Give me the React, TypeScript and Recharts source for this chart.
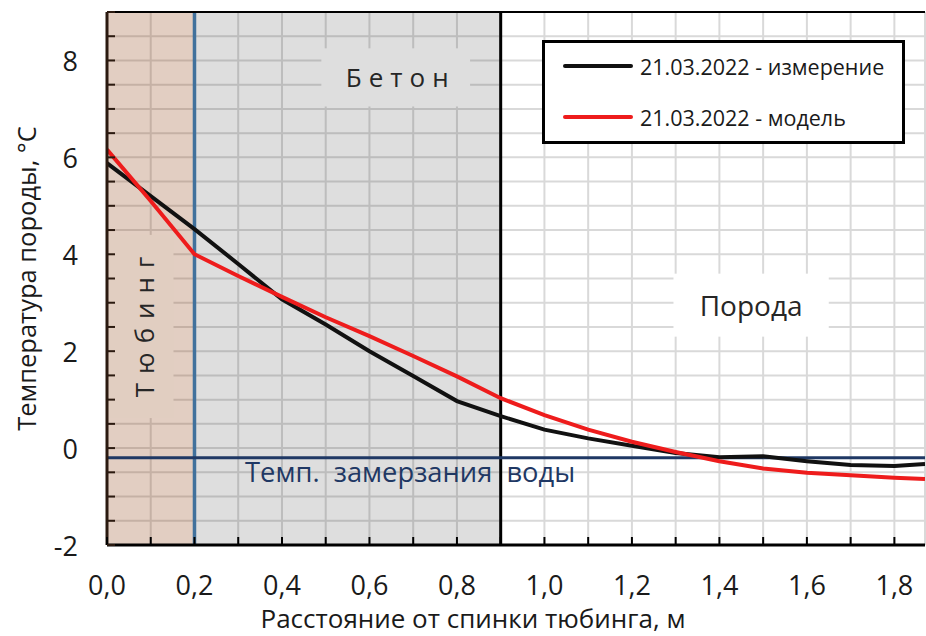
import React from 'react'
import {
  LineChart, Line, XAxis, YAxis, CartesianGrid, ReferenceArea, ReferenceLine, Legend,
} from 'recharts'

// distance from the back of the tubing, m
const distance = [0, 0.1, 0.2, 0.3, 0.4, 0.5, 0.6, 0.7, 0.8, 0.9, 1.0, 1.1, 1.2, 1.3, 1.4, 1.5, 1.6, 1.7, 1.8, 1.87]
// 21.03.2022 measured temperature, °C
const measured = [5.88, 5.2, 4.52, 3.8, 3.07, 2.55, 2.0, 1.49, 0.97, 0.66, 0.38, 0.2, 0.05, -0.1, -0.19, -0.17, -0.27, -0.35, -0.37, -0.33]
// 21.03.2022 model temperature, °C
const model = [6.16, 5.1, 4.0, 3.55, 3.12, 2.7, 2.31, 1.9, 1.48, 1.03, 0.68, 0.38, 0.13, -0.08, -0.27, -0.42, -0.51, -0.56, -0.61, -0.64]

const xTicks = [0, 0.1, 0.2, 0.3, 0.4, 0.5, 0.6, 0.7, 0.8, 0.9, 1.0, 1.1, 1.2, 1.3, 1.4, 1.5, 1.6, 1.7, 1.8]
const yTicks = [-2, -1.5, -1, -0.5, 0, 0.5, 1, 1.5, 2, 2.5, 3, 3.5, 4, 4.5, 5, 5.5, 6, 6.5, 7, 7.5, 8, 8.5, 9]
const yLabels = [-2, 0, 2, 4, 6, 8]

const tubingEnd = 0.2
const concreteEnd = 0.9
const freezingTemp = -0.2

const data = distance.map((d, i) => ({ d, measured: measured[i], model: model[i] }))

const FONT = "'Open Sans', sans-serif"

function XTick({ x, y, payload }: any) {
  const v = payload.value
  const major = Math.round(v * 10) % 2 === 0
  return (
    <g>
      <line x1={x} y1={y} x2={x} y2={y - 8} stroke="#000" strokeWidth={2} />
      {major && (
        <text x={x} y={y + 39} textAnchor="middle" dominantBaseline="central" fontSize={27} fill="#1a1a1a">
          {v.toFixed(1).replace('.', ',')}
        </text>
      )}
    </g>
  )
}

function YTick({ x, y, payload }: any) {
  const v = payload.value
  return (
    <g>
      <line x1={x} y1={y} x2={x + 8} y2={y} stroke="#2b1a10" strokeWidth={2} />
      {yLabels.includes(v) && (
        <text x={x - 29} y={y} textAnchor="end" dominantBaseline="central" fontSize={27} fill="#1a1a1a">
          {v}
        </text>
      )}
    </g>
  )
}

function boxShape(text: string, opts: { fill?: string; size: number; spacing?: number; rotate?: boolean; color?: string; dx?: number; dy?: number }) {
  return (p: any) => {
    const cx = p.x + p.width / 2 + (opts.dx || 0)
    const cy = p.y + p.height / 2 + (opts.dy || 0)
    return (
      <g>
        {opts.fill && <rect x={p.x} y={p.y} width={p.width} height={p.height} fill={opts.fill} />}
        <text
          x={cx}
          y={cy}
          textAnchor="middle"
          dominantBaseline="central"
          fontSize={opts.size}
          fill={opts.color || '#262626'}
          transform={opts.rotate ? `rotate(-90 ${cx} ${cy})` : undefined}
          style={{ letterSpacing: opts.spacing || 0, whiteSpace: 'pre', fontFamily: FONT }}
        >
          {text}
        </text>
      </g>
    )
  }
}

function LegendBox({ payload }: any) {
  return (
    <div style={{ width: 363, height: 104, boxSizing: 'border-box', border: '3px solid #000', background: '#fff', position: 'relative', fontFamily: FONT }}>
      {(payload || []).map((e: any, i: number) => (
        <div key={i} style={{ position: 'absolute', left: 18, top: 11 + i * 51, height: 24, display: 'flex', alignItems: 'center' }}>
          <div style={{ width: 70, height: 4, background: e.color, borderRadius: 2 }} />
          <span style={{ marginLeft: 7, fontSize: 21.5, color: '#1a1a1a', whiteSpace: 'nowrap' }}>{e.value}</span>
        </div>
      ))}
    </div>
  )
}

export default function App() {
  return (
    <div style={{ position: 'absolute', left: 0, top: 0, width: 926, height: 636, background: '#fff', fontFamily: FONT }}>
      <LineChart width={926} height={636} data={data} margin={{ top: 12, right: 1, bottom: 0, left: 0 }}>
        <CartesianGrid stroke="#d9d9d9" strokeWidth={2} />
        <XAxis
          dataKey="d"
          type="number"
          domain={[0, 1.87]}
          ticks={xTicks}
          interval={0}
          allowDataOverflow
          height={91}
          tickSize={0}
          tickMargin={0}
          tickLine={false}
          tick={<XTick />}
          axisLine={{ stroke: '#000', strokeWidth: 3 }}
          label={{ value: 'Расстояние от спинки тюбинга, м', position: 'insideBottom', offset: 8, dx: -43, fontSize: 26, fill: '#1a1a1a' }}
        />
        <YAxis
          type="number"
          domain={[-2, 9]}
          ticks={yTicks}
          interval={0}
          allowDataOverflow
          width={107}
          tickSize={0}
          tickMargin={0}
          tickLine={false}
          tick={<YTick />}
          axisLine={{ stroke: '#2b1a10', strokeWidth: 3 }}
          label={{ value: 'Температура породы, °C', angle: -90, position: 'insideLeft', offset: 27, fontSize: 25.5, fill: '#1a1a1a', style: { textAnchor: 'middle' } }}
        />
        <ReferenceArea x1={0} x2={tubingEnd} y1={-2} y2={9} fill="#8a3a0a" fillOpacity={0.25} stroke="none" />
        <ReferenceArea x1={tubingEnd} x2={concreteEnd} y1={-2} y2={9} fill="#000" fillOpacity={0.13} stroke="none" />
        <ReferenceArea x1={0.004} x2={0.152} y1={0.62} y2={4.4} shape={boxShape('Тюбинг', { fill: '#e1cec1', size: 26, spacing: 9, rotate: true, dx: 3, dy: -4 })} />
        <ReferenceArea x1={0.49} x2={0.83} y1={7.05} y2={8.25} shape={boxShape('Бетон', { fill: '#dedede', size: 26, spacing: 7, dx: 5, dy: 0 })} />
        <ReferenceArea x1={1.295} x2={1.65} y1={2.3} y2={3.6} shape={boxShape('Порода', { fill: '#ffffff', size: 28 })} />
        <ReferenceArea x1={0.31} x2={1.076} y1={-0.83} y2={-0.2} shape={boxShape('Темп.  замерзания  воды', { size: 27.3, color: '#1f3864', dy: -2 })} />
        <ReferenceLine x={tubingEnd} stroke="#41719c" strokeWidth={3.5} />
        <ReferenceLine x={concreteEnd} stroke="#000" strokeWidth={3} />
        <ReferenceLine y={freezingTemp} stroke="#1f3864" strokeWidth={3} />
        <ReferenceLine y={9} stroke="#000" strokeWidth={2} />
        <Legend
          layout="vertical"
          align="center"
          verticalAlign="middle"
          wrapperStyle={{ left: 542, top: 40, width: 363, height: 104 }}
          content={<LegendBox />}
        />
        <Line dataKey="measured" name="21.03.2022 - измерение" type="linear" stroke="#111111" strokeWidth={4} dot={false} activeDot={false} isAnimationActive={false} />
        <Line dataKey="model" name="21.03.2022 - модель" type="linear" stroke="#ee1c1c" strokeWidth={4} dot={false} activeDot={false} isAnimationActive={false} />
      </LineChart>
    </div>
  )
}
